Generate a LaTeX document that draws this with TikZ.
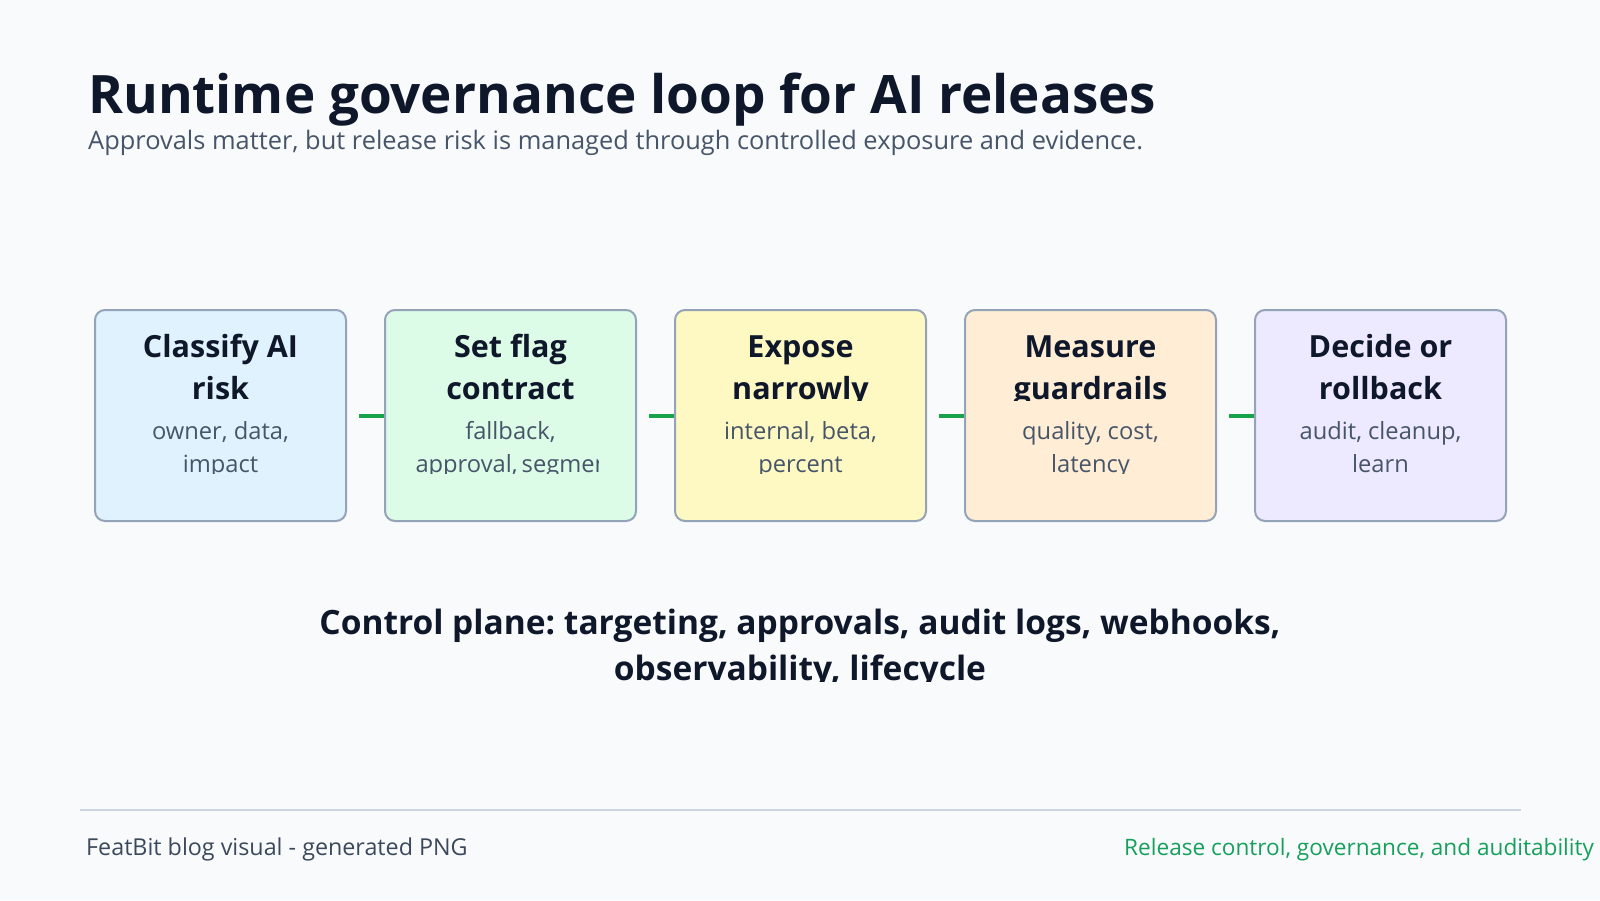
\documentclass[tikz,border=0pt]{standalone}
\usepackage{fontspec}
\setmainfont{Open Sans}
\usepackage{tikz}
\frenchspacing
\definecolor{canvas}{HTML}{F8FAFC}
\definecolor{ink}{HTML}{0F172A}
\definecolor{muted}{HTML}{475569}
\definecolor{edge}{HTML}{94A3B8}
\definecolor{rule}{HTML}{CBD5E1}
\definecolor{flow}{HTML}{16A34A}
\definecolor{footg}{HTML}{16A05C}
\definecolor{fblue}{HTML}{E0F2FE}
\definecolor{fgreen}{HTML}{DCFCE7}
\definecolor{fyellow}{HTML}{FEF9C3}
\definecolor{forange}{HTML}{FFEDD5}
\definecolor{fviolet}{HTML}{EDE9FE}
\newcommand\rowbox[1]{\hbox to 190pt{\hfil#1\hfil}}

\begin{document}
\begin{tikzpicture}[x=1pt,y=-1pt,
  stage/.style={draw=edge,line width=2pt,rounded corners=10pt,minimum width=251pt,minimum height=211pt,inner sep=0pt},
  head/.style={anchor=base,inner sep=0pt,text=ink,font=\fontsize{30.5}{36}\selectfont\bfseries},
  note/.style={anchor=base,inner sep=0pt,text=muted,font=\fontsize{23.7}{28}\selectfont},
  plane/.style={anchor=base,inner sep=0pt,text=ink,font=\fontsize{33.5}{40}\selectfont\bfseries},
  link/.style={flow,line width=4pt,shorten <=12pt}]
\fill[canvas] (0,0) rectangle (1600,900);
\useasboundingbox (0,0) rectangle (1600,900);
\node[anchor=base west,inner sep=0pt,text=ink,font=\fontsize{53}{63}\selectfont\bfseries] (title) at (88,113) {Runtime governance loop for AI releases};
\node[anchor=base west,inner sep=0pt,text=muted,font=\fontsize{25.4}{30}\selectfont] (subtitle) at (88,149) {Approvals matter, but release risk is managed through controlled exposure and evidence.};
\foreach \i/\c/\ha/\hb/\na/\nb in {1/fblue/Classify AI/risk/{owner, data,}/impact,
  2/fgreen/Set flag/contract/{fallback,}/{approval, segments},
  3/fyellow/Expose/narrowly/{internal, beta,}/percent,
  4/forange/Measure/guardrails/{quality, cost,}/latency,
  5/fviolet/Decide or/rollback/{audit, cleanup,}/learn}{
  \pgfmathsetmacro\cx{220.5+290*(\i-1)}
  \node[stage,fill=\c] (s\i) at (\cx,415.5) {};
  \begin{scope}
    \clip (\cx-95,318) rectangle (\cx+95,400);
    \node[head] (ha\i) at (\cx,357) {\rowbox{\ha}};
    \node[head] (hb\i) at (\cx,399) {\rowbox{\hb}};
  \end{scope}
  \begin{scope}
    \clip (\cx-95,405) rectangle (\cx+88,473.5);
    \node[note] (na\i) at (\cx,439) {\rowbox{\na}};
    \node[note] (nb\i) at (\cx,472) {\rowbox{\nb}};
  \end{scope}}
\foreach \i [evaluate=\i as \j using int(\i+1)] in {1,...,4}
  \draw[link] (s\i.east) -- (s\j.west);
\begin{scope}
  \clip (200,580) rectangle (1400,681.5);
  \node[plane] (plane1) at (800,634) {Control plane: targeting, approvals, audit logs, webhooks,};
  \node[plane] (plane2) at (800,680) {observability, lifecycle};
\end{scope}
\coordinate (ruleL) at (80,810); \coordinate (ruleR) at (1521,810);
\draw[rule,line width=2pt] (ruleL) -- (ruleR);
\node[anchor=base west,inner sep=0pt,text=muted!80!ink,font=\fontsize{23.3}{28}\selectfont] (footL) at (86,855) {FeatBit blog visual - generated PNG};
\node[anchor=base west,inner sep=0pt,text=footg,font=\fontsize{22.6}{28}\selectfont] (footR) at (1124,855) {Release control, governance, and auditability};
\end{tikzpicture}
\end{document}
